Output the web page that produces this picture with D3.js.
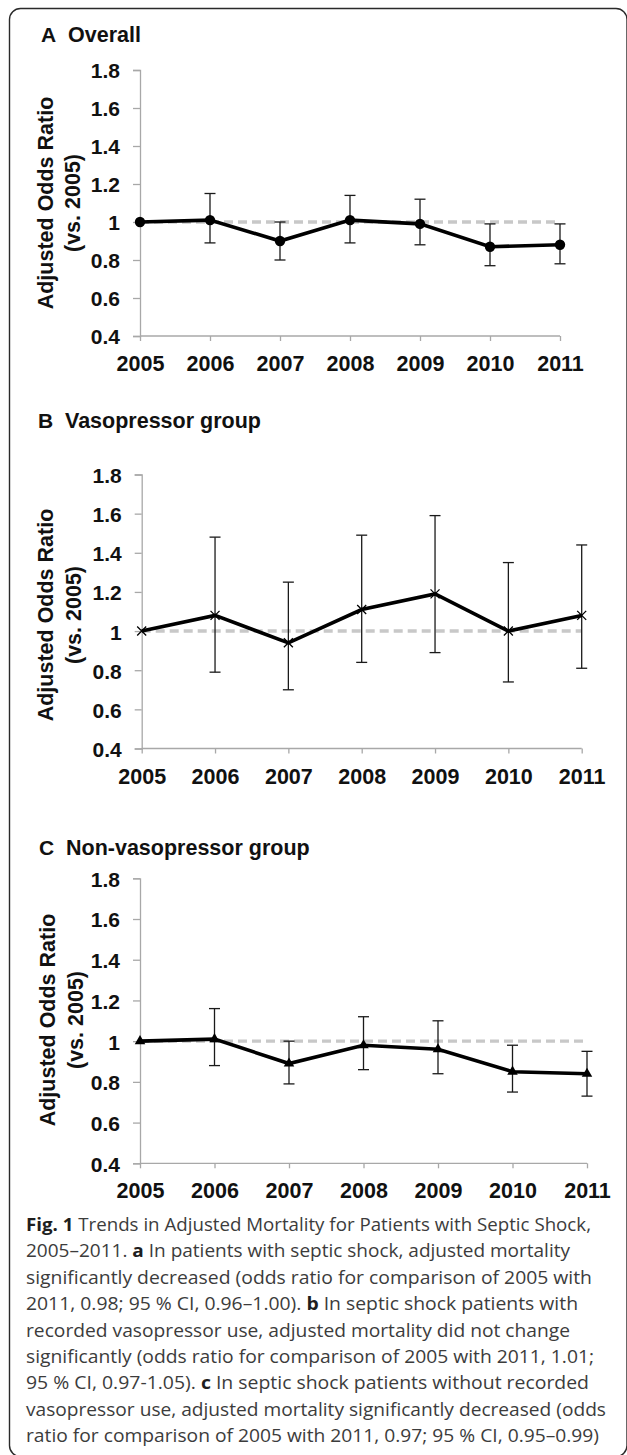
<!DOCTYPE html>
<html><head><meta charset="utf-8">
<script src="https://cdn.jsdelivr.net/npm/d3@7"></script>
<style>body{margin:0;background:#fff} svg{display:block}</style>
</head><body>
<svg id="c" width="627" height="1455"></svg>
<script>
// ---- data ----
const years = [2005, 2006, 2007, 2008, 2009, 2010, 2011];
const yTickValues = [0.4, 0.6, 0.8, 1.0, 1.2, 1.4, 1.6, 1.8];
const yTickLabels = ["0.4", "0.6", "0.8", "1", "1.2", "1.4", "1.6", "1.8"];
const overallOR = [1.00, 1.01, 0.90, 1.01, 0.99, 0.87, 0.88];
const overallLo = [null, 0.89, 0.80, 0.89, 0.88, 0.77, 0.78];
const overallHi = [null, 1.15, 1.00, 1.14, 1.12, 0.99, 0.99];
const vasoOR = [1.00, 1.08, 0.94, 1.11, 1.19, 1.00, 1.08];
const vasoLo = [null, 0.79, 0.70, 0.84, 0.89, 0.74, 0.81];
const vasoHi = [null, 1.48, 1.25, 1.49, 1.59, 1.35, 1.44];
const nonvasoOR = [1.00, 1.01, 0.89, 0.98, 0.96, 0.85, 0.84];
const nonvasoLo = [null, 0.88, 0.79, 0.86, 0.84, 0.75, 0.73];
const nonvasoHi = [null, 1.16, 1.00, 1.12, 1.10, 0.98, 0.95];
const panelLetters = ["A", "B", "C"];
const panelTitles = ["Overall", "Vasopressor group", "Non-vasopressor group"];
const yTitleLine1 = "Adjusted Odds Ratio";
const yTitleLine2 = "(vs. 2005)";
const referenceValue = 1.0;
const captionLines = [
  [["Fig. 1", true], [" Trends in Adjusted Mortality for Patients with Septic Shock,", false]],
  [["2005\u20132011. ", false], ["a", true], [" In patients with septic shock, adjusted mortality", false]],
  [["significantly decreased (odds ratio for comparison of 2005 with", false]],
  [["2011, 0.98; 95 % CI, 0.96\u20131.00). ", false], ["b", true], [" In septic shock patients with", false]],
  [["recorded vasopressor use, adjusted mortality did not change", false]],
  [["significantly (odds ratio for comparison of 2005 with 2011, 1.01;", false]],
  [["95 % CI, 0.97-1.05). ", false], ["c", true], [" In septic shock patients without recorded", false]],
  [["vasopressor use, adjusted mortality significantly decreased (odds", false]],
  [["ratio for comparison of 2005 with 2011, 0.97; 95 % CI, 0.95\u20130.99)", false]]
];

// ---- layout ----
const panels = [
  {or: overallOR, lo: overallLo, hi: overallHi, marker: "circle",
   x0: 140, x1: 560, yTop: 70, yBot: 336, titleY: 41.5, titleX: 41, yTitleX: 52.5, yTitleC: 203},
  {or: vasoOR, lo: vasoLo, hi: vasoHi, marker: "cross",
   x0: 141.7, x1: 581.7, yTop: 474.5, yBot: 748.5, titleY: 428, titleX: 38, yTitleX: 53.3, yTitleC: 615},
  {or: nonvasoOR, lo: nonvasoLo, hi: nonvasoHi, marker: "triangle",
   x0: 140, x1: 587, yTop: 878.3, yBot: 1163.3, titleY: 855, titleX: 39, yTitleX: 55, yTitleC: 1020}
];

const svg = d3.select("#c");
const FONT = "'Liberation Sans', Arial, Helvetica, sans-serif";

// frame
svg.append("rect").attr("x", 9.5).attr("y", 8.5).attr("width", 617.5).attr("height", 1448)
  .attr("rx", 11).attr("fill", "none").attr("stroke", "#2a2a2a").attr("stroke-width", 1.4);

panels.forEach((p, i) => {
  const g = svg.append("g");
  const x = d3.scalePoint().domain(years).range([p.x0, p.x1]);
  const y = d3.scaleLinear().domain([0.4, 1.8]).range([p.yBot, p.yTop]);

  // panel title
  g.append("text").attr("x", p.titleX).attr("y", p.titleY).text(panelLetters[i])
    .attr("font-family", FONT).attr("font-weight", "bold").attr("font-size", 21).attr("fill", "#111");
  g.append("text").attr("x", p.titleX + 27).attr("y", p.titleY).text(panelTitles[i])
    .attr("font-family", FONT).attr("font-weight", "bold").attr("font-size", 21.5).attr("fill", "#111");

  // y axis
  const yAxis = d3.axisLeft(y).tickValues(yTickValues)
    .tickFormat((d, k) => yTickLabels[k]).tickSize(7).tickPadding(13);
  const ya = g.append("g").attr("transform", `translate(${p.x0},0)`).call(yAxis);
  ya.select(".domain").attr("stroke", "#a8a8a8").attr("stroke-width", 1.3);
  ya.selectAll(".tick line").attr("stroke", "#a8a8a8").attr("stroke-width", 1.3);
  ya.selectAll(".tick text").attr("font-family", FONT).attr("font-weight", "bold")
    .attr("font-size", 21).attr("fill", "#111").attr("dy", "0.38em");

  // x axis
  const xAxis = d3.axisBottom(x).tickSize(5).tickPadding(0).tickFormat(d => String(d));
  const xa = g.append("g").attr("transform", `translate(0,${p.yBot})`).call(xAxis);
  xa.select(".domain").attr("d", `M${p.x0},0H${p.x1}`).attr("stroke", "#a8a8a8").attr("stroke-width", 1.3);
  xa.selectAll(".tick line").attr("stroke", "#a8a8a8").attr("stroke-width", 1.3);
  xa.selectAll(".tick text").attr("font-family", FONT).attr("font-weight", "bold")
    .attr("font-size", 21.5).attr("fill", "#111").attr("y", 35).attr("dy", 0);

  // y title
  const yt = g.append("text").attr("font-family", FONT).attr("font-weight", "bold")
    .attr("font-size", 21.5).attr("fill", "#111").attr("text-anchor", "middle");
  yt.append("tspan").attr("x", 0).attr("y", 0).text(yTitleLine1);
  yt.append("tspan").attr("x", 0).attr("y", 27.5).text(yTitleLine2);
  yt.attr("transform", `translate(${p.yTitleX},${p.yTitleC}) rotate(-90)`);

  // reference dashed line
  g.append("line").attr("x1", x(years[0])).attr("x2", x(years[years.length - 1]))
    .attr("y1", y(referenceValue)).attr("y2", y(referenceValue))
    .attr("stroke", "#c8c8c8").attr("stroke-width", 3.4).attr("stroke-dasharray", "9,5");

  const pts = years.map((yr, k) => ({yr, v: p.or[k], lo: p.lo[k], hi: p.hi[k]}));

  // error bars
  const eb = g.append("g").attr("stroke", "#1a1a1a").attr("stroke-width", 1.3);
  pts.filter(d => d.lo != null).forEach(d => {
    const cx = x(d.yr);
    eb.append("line").attr("x1", cx).attr("x2", cx).attr("y1", y(d.lo)).attr("y2", y(d.hi));
    eb.append("line").attr("x1", cx - 5.5).attr("x2", cx + 5.5).attr("y1", y(d.lo)).attr("y2", y(d.lo));
    eb.append("line").attr("x1", cx - 5.5).attr("x2", cx + 5.5).attr("y1", y(d.hi)).attr("y2", y(d.hi));
  });

  // line
  g.append("path").datum(pts)
    .attr("d", d3.line().x(d => x(d.yr)).y(d => y(d.v)))
    .attr("fill", "none").attr("stroke", "#000").attr("stroke-width", 3.6)
    .attr("stroke-linejoin", "miter");

  // markers
  const mk = g.append("g");
  pts.forEach(d => {
    const cx = x(d.yr), cy = y(d.v);
    if (p.marker === "circle") {
      mk.append("circle").attr("cx", cx).attr("cy", cy).attr("r", 5.2).attr("fill", "#000");
    } else if (p.marker === "cross") {
      mk.append("path").attr("d", `M${cx - 4.5},${cy - 4.5}L${cx + 4.5},${cy + 4.5}M${cx - 4.5},${cy + 4.5}L${cx + 4.5},${cy - 4.5}`)
        .attr("stroke", "#000").attr("stroke-width", 1.3).attr("fill", "none");
    } else {
      mk.append("path").attr("d", d3.symbol(d3.symbolTriangle, 48)())
        .attr("transform", `translate(${cx},${cy})`).attr("fill", "#000");
    }
  });
});

// caption
const capTargets = [591, 570, 592, 578, 570, 594, 589, 606, 599];
const capX = 26, capY0 = 1231, capDy = 26.4;
captionLines.forEach((segs, i) => {
  const t = svg.append("text").attr("x", capX).attr("y", capY0 + i * capDy)
    .attr("font-family", "'Open Sans', 'Noto Sans', sans-serif").attr("font-size", 17.5)
    .attr("fill", "#3c3c3c");
  segs.forEach(([s, b]) => {
    const ts = t.append("tspan").text(s);
    if (b) ts.attr("font-weight", "bold").attr("fill", "#1e1e1e");
  });
  const target = capTargets[i] - capX;
  const natural = t.node().getComputedTextLength();
  if (Math.abs(natural - target) > 1) {
    t.attr("textLength", target).attr("lengthAdjust", "spacingAndGlyphs");
  }
});
</script>
</body></html>
